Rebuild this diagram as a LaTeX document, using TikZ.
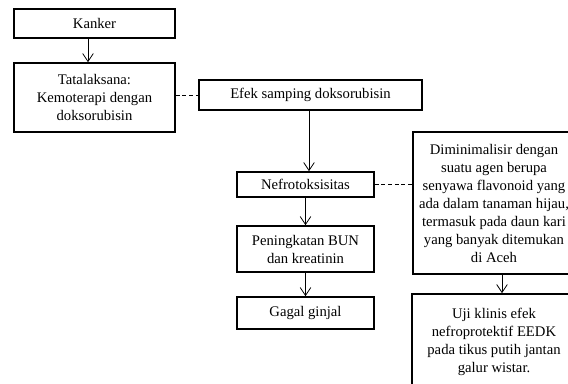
\documentclass[tikz,border=0pt]{standalone}
\usepackage{fontspec}
\setmainfont{Liberation Serif}
\usetikzlibrary{arrows.meta}

\begin{document}
\begin{tikzpicture}[x=0.75pt,y=-0.75pt,
        box/.style={draw, line width=1.2pt, align=center, inner sep=1pt,
            font=\fontsize{11}{13.5}\selectfont},
        arr/.style={line width=0.6pt, -{Straight Barb[length=6pt,width=8pt]}},
        dashline/.style={line width=0.6pt, dash pattern=on 3pt off 2pt}]
        % Define pixel unit
        \def\u{0.75pt}
        % Fix the picture size
        \useasboundingbox (0,0) rectangle (568,384);
        \clip (0,0) rectangle (568,384);
        % Draw the left column
        \node[box, minimum width=161*\u, minimum height=29*\u] (kanker) at (94.5,23.5) {Kanker};
        \node[box, minimum width=161*\u, minimum height=69*\u] (tata) at (94.5,97.5)
            {Tatalaksana:\\Kemoterapi dengan\\doksorubisin};
        % Draw the middle column
        \node[box, minimum width=223*\u, minimum height=30*\u] (efek) at (310.5,95) {Efek samping doksorubisin};
        \node[box, minimum width=137*\u, minimum height=25*\u] (nefro) at (305.5,184.5) {Nefrotoksisitas};
        \node[box, minimum width=137*\u, minimum height=46*\u] (bun) at (305.5,249)
            {Peningkatan BUN\\dan kreatinin};
        \node[box, minimum width=137*\u, minimum height=32*\u] (gagal) at (305.5,313) {Gagal ginjal};
        % Draw the right column
        \node[box, minimum width=162*\u, minimum height=142*\u] (dim) at (494,203)
            {Diminimalisir dengan\\suatu agen berupa\\senyawa flavonoid yang\\ada dalam tanaman hijau,\\termasuk pada daun kari\\yang banyak ditemukan\\di Aceh};
        \node[box, minimum width=164*\u, minimum height=96*\u] (uji) at (494,342)
            {Uji klinis efek\\nefroprotektif EEDK\\pada tikus putih jantan\\galur wistar.};
        % Draw the arrows
        \draw[arr] (kanker.south -| 88,0) -- (tata.north -| 88,0);
        \draw[arr] (efek.south -| 309,0) -- (nefro.north -| 309,0);
        \draw[arr] (nefro.south) -- (bun.north);
        \draw[arr] (bun.south) -- (gagal.north);
        \draw[arr] (dim.south -| 502,0) -- (uji.north -| 502,0);
        % Draw the dashed links
        \draw[dashline] (tata.east |- efek.west) -- (efek.west);
        \draw[dashline] (nefro.east) -- (dim.west |- nefro.east);
\end{tikzpicture}
\end{document}
